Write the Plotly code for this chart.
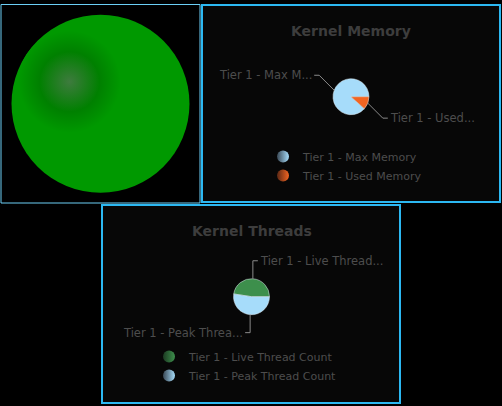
import math
import plotly.graph_objects as go

W, H = 502, 406

# Data
status_label = ["Tier 1 - Status"]
status_value = [1]

memory_title = "Kernel Memory"
memory_labels = ["Tier 1 - Max Memory", "Tier 1 - Used Memory"]
memory_short = ["Tier 1 - Max M...", "Tier 1 - Used..."]
memory_values = [1820, 240]

threads_title = "Kernel Threads"
threads_labels = ["Tier 1 - Live Thread Count", "Tier 1 - Peak Thread Count"]
threads_short = ["Tier 1 - Live Thread...", "Tier 1 - Peak Threa..."]
threads_values = [49, 54]

memory_colors = ["#a6dcfa", "#f26522"]
memory_dark = ["#3a4956", "#5a2714"]
threads_colors = ["#3d8f4c", "#a6dcfa"]
threads_dark = ["#1c3a22", "#3a4956"]

text_col = "#4d4d4d"
title_col = "#3d3d3d"
font_fam = "DejaVu Sans"


def px(x):
    return x / W


def py(y):
    return 1 - y / H


fig = go.Figure()

# status ball in the left panel
fig.add_trace(go.Scatter(
    x=[0], y=[0], mode="markers", hoverinfo="text", text=status_label,
    marker=dict(size=178, color="#009900", line=dict(width=0)),
    showlegend=False,
))
# soft darker highlight towards the upper left (radial: edge = color, centre = gradient.color)
hx, hy = -31 / 99.5, 22 / 99.25
fig.add_trace(go.Scatter(
    x=[hx], y=[hy], mode="markers", hoverinfo="skip",
    marker=dict(size=102, color="#009900", gradient=dict(type="radial", color="#005c00"),
                line=dict(width=0)),
    showlegend=False,
))
fig.add_trace(go.Scatter(
    x=[hx], y=[hy], mode="markers", hoverinfo="skip",
    marker=dict(size=60, color="#008000", gradient=dict(type="radial", color="#3e7b3e"),
                line=dict(width=0)),
    showlegend=False,
))

pies = [
    dict(labels=memory_labels, short=memory_short, values=memory_values,
         colors=memory_colors, dark=memory_dark, cx=351, cy=96.7, r=18,
         title=memory_title, ty=31, legend="legend"),
    dict(labels=threads_labels, short=threads_short, values=threads_values,
         colors=threads_colors, dark=threads_dark, cx=251.5, cy=296.7, r=18,
         title=threads_title, ty=231, legend="legend2"),
]

shapes = [
    dict(type="rect", xref="paper", yref="paper", layer="below",
         x0=px(1), x1=px(200), y0=py(203), y1=py(4.5),
         line=dict(color="#6ccff6", width=1), fillcolor="#000000"),
    dict(type="rect", xref="paper", yref="paper", layer="below",
         x0=px(202), x1=px(500), y0=py(202), y1=py(5),
         line=dict(color="#2cb8f2", width=2), fillcolor="#070707"),
    dict(type="rect", xref="paper", yref="paper", layer="below",
         x0=px(102), x1=px(400), y0=py(403), y1=py(205),
         line=dict(color="#2cb8f2", width=2), fillcolor="#070707"),
]
annotations = []

for p in pies:
    cx, cy, r = p["cx"], p["cy"], p["r"]
    total = sum(p["values"])
    # first slice runs counterclockwise from 3 o'clock
    rot = 90 - 360.0 * p["values"][0] / total
    fig.add_trace(go.Pie(
        labels=p["labels"], values=p["values"], sort=False,
        direction="counterclockwise", rotation=rot,
        marker=dict(colors=p["colors"], line=dict(color="#dde8ee", width=0.5)),
        textinfo="none", showlegend=False,
        domain=dict(x=[px(cx - r), px(cx + r)], y=[py(cy + r), py(cy - r)]),
    ))
    annotations.append(dict(
        x=px(cx), y=py(p["ty"]), xref="paper", yref="paper", showarrow=False,
        text="<b>" + p["title"] + "</b>", font=dict(size=14, color=title_col),
        xanchor="center", yanchor="middle",
    ))
    # leader lines from slice mid angles
    start = 0.0
    for v, lab in zip(p["values"], p["short"]):
        span = 360.0 * v / total
        mid = math.radians(start + span / 2)
        start += span
        c, s = math.cos(mid), math.sin(mid)
        sx = 1 if c >= 0 else -1
        sy = 1 if s >= 0 else -1
        ex, ey = cx + r * c, cy - r * s
        if abs(c) > 0.5:
            bx, by = ex + 15 * sx, ey - 15 * sy
        else:
            bx, by = ex, ey - 18 * sy
        hx2 = bx + 5 * sx
        shapes.append(dict(type="path", xref="paper", yref="paper",
                           path=f"M {px(ex)} {py(ey)} L {px(bx)} {py(by)} L {px(hx2)} {py(by)}",
                           line=dict(color="#8a8a8a", width=1)))
        annotations.append(dict(
            x=px(hx2), y=py(by), xref="paper", yref="paper", showarrow=False,
            text=lab, font=dict(size=11.5, color=text_col),
            xanchor="left" if sx > 0 else "right", yanchor="middle",
        ))
    # legend entries
    for lab, col, dk in zip(p["labels"], p["colors"], p["dark"]):
        fig.add_trace(go.Scatter(
            x=[None], y=[None], mode="markers", name=lab, legend=p["legend"],
            marker=dict(symbol="circle", size=12, color=dk,
                        gradient=dict(type="horizontal", color=col),
                        line=dict(width=0)),
        ))

legend_style = dict(
    bgcolor="rgba(0,0,0,0)", font=dict(size=11, color=text_col, family=font_fam),
    orientation="v", xanchor="left", yanchor="top", itemsizing="constant",
)

fig.update_layout(
    width=W, height=H,
    margin=dict(l=0, r=0, t=0, b=0),
    paper_bgcolor="#000000",
    plot_bgcolor="rgba(0,0,0,0)",
    font=dict(family=font_fam, color=text_col),
    xaxis=dict(domain=[px(1), px(200)], range=[-1, 1], visible=False, fixedrange=True),
    yaxis=dict(domain=[py(203), py(4.5)], range=[-1, 1], visible=False, fixedrange=True),
    shapes=shapes,
    annotations=annotations,
    legend=dict(x=px(263), y=py(142), **legend_style),
    legend2=dict(x=px(149), y=py(342), **legend_style),
)

fig.write_html("out.html", config={"displayModeBar": False},
               post_script="document.body.style.margin='0';"
               "document.body.style.background='#000';")
